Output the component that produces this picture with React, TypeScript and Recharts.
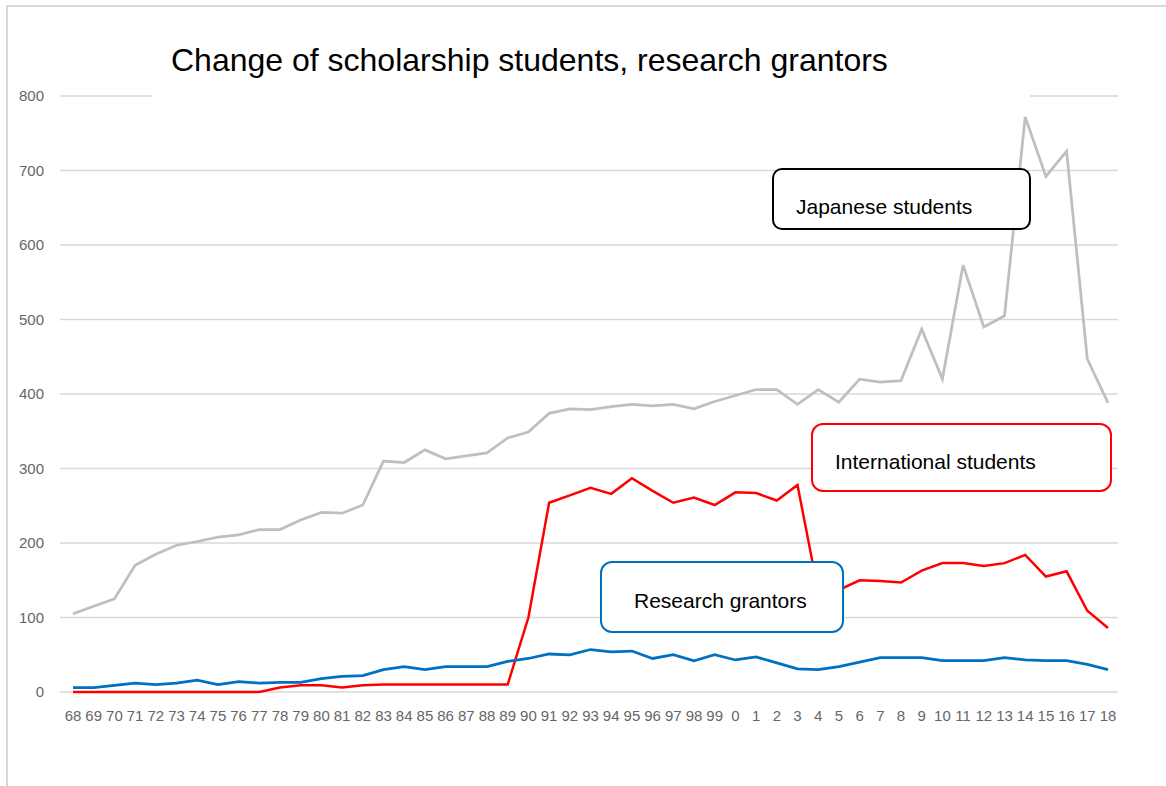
import React from 'react';
import { LineChart, Line, XAxis, YAxis, CartesianGrid } from 'recharts';

const years = [
  '68', '69', '70', '71', '72', '73', '74', '75', '76', '77', '78', '79', '80', '81', '82', '83', '84',
  '85', '86', '87', '88', '89', '90', '91', '92', '93', '94', '95', '96', '97', '98', '99', '0', '1',
  '2', '3', '4', '5', '6', '7', '8', '9', '10', '11', '12', '13', '14', '15', '16', '17', '18',
];

const japanese = [
  105, 115, 125, 170, 185, 197, 202, 208, 211, 218, 218, 231, 241, 240, 251, 310, 308,
  325, 313, 317, 321, 341, 349, 374, 380, 379, 383, 386, 384, 386, 380, 390, 398, 406,
  406, 386, 406, 389, 420, 416, 418, 487, 420, 573, 490, 505, 772, 692, 726, 447, 388,
];

const international = [
  0, 0, 0, 0, 0, 0, 0, 0, 0, 0, 6, 9, 9, 6, 9, 10, 10,
  10, 10, 10, 10, 10, 100, 254, 264, 274, 266, 287, 270, 254, 261, 251, 268, 267,
  257, 278, 135, 137, 150, 149, 147, 163, 173, 173, 169, 173, 184, 155, 162, 109, 86,
];

const grantors = [
  6, 6, 9, 12, 10, 12, 16, 10, 14, 12, 13, 13, 18, 21, 22, 30, 34,
  30, 34, 34, 34, 41, 45, 51, 50, 57, 54, 55, 45, 50, 42, 50, 43, 47,
  39, 31, 30, 34, 40, 46, 46, 46, 42, 42, 42, 46, 43, 42, 42, 37, 30,
];

const yTicks = [0, 100, 200, 300, 400, 500, 600, 700, 800];

const data = years.map((y, i) => ({
  year: y,
  japanese: japanese[i],
  international: international[i],
  grantors: grantors[i],
}));

const boxStyle = (color: string, radius: number): React.CSSProperties => ({
  position: 'absolute',
  background: '#fff',
  border: `2px solid ${color}`,
  borderRadius: radius,
  boxSizing: 'border-box',
  fontFamily: 'Liberation Sans, Arial, sans-serif',
  fontSize: 21,
  color: '#000',
});

export default function App() {
  return (
    <div style={{ position: 'absolute', left: 0, top: 0, width: 1166, height: 786, background: '#fff', overflow: 'hidden' }}>
      {/* frame */}
      <div style={{ position: 'absolute', left: 6, top: 5, width: 1200, height: 800, borderTop: '2px solid #d9d9d9', borderLeft: '2px solid #d9d9d9' }} />
      <LineChart
        width={1166}
        height={786}
        data={data}
        margin={{ top: 96, right: 48, left: 0, bottom: 64 }}
        style={{ position: 'absolute', left: 0, top: 0 }}
      >
        <CartesianGrid vertical={false} stroke="#d9d9d9" strokeWidth={1.5} />
        <XAxis
          dataKey="year"
          interval={0}
          axisLine={false}
          tickLine={false}
          tickSize={0}
          tickMargin={18}
          height={30}
          padding={{ left: 13, right: 10 }}
          tick={{ fill: '#666', fontSize: 15, fontFamily: 'Liberation Sans, Arial, sans-serif' }}
        />
        <YAxis
          domain={[0, 800]}
          ticks={yTicks}
          interval={0}
          axisLine={false}
          tickLine={false}
          tickSize={0}
          tickMargin={16}
          width={60}
          tick={{ fill: '#666', fontSize: 15, fontFamily: 'Liberation Sans, Arial, sans-serif' }}
        />
        <Line type="linear" dataKey="japanese" stroke="#bfbfbf" strokeWidth={2.75} dot={false} isAnimationActive={false} />
        <Line type="linear" dataKey="international" stroke="#ff0000" strokeWidth={2.5} dot={false} isAnimationActive={false} />
        <Line type="linear" dataKey="grantors" stroke="#0070c0" strokeWidth={2.75} dot={false} isAnimationActive={false} />
      </LineChart>

      {/* title, with a white backing that hides the top gridline behind it */}
      <div
        style={{
          position: 'absolute',
          left: 152,
          top: 40,
          width: 878,
          height: 60,
          background: '#fff',
          fontFamily: 'Liberation Sans, Arial, sans-serif',
          fontSize: 32,
          color: '#000',
          paddingLeft: 19,
          paddingTop: 2,
          boxSizing: 'border-box',
          whiteSpace: 'nowrap',
        }}
      >
        Change of scholarship students, research grantors
      </div>

      <div style={{ ...boxStyle('#000', 10), left: 772, top: 168, width: 259, height: 62, paddingLeft: 22, paddingTop: 25 }}>
        Japanese students
      </div>
      <div style={{ ...boxStyle('#ff0000', 12), left: 811, top: 423, width: 301, height: 69, paddingLeft: 22, paddingTop: 25 }}>
        International students
      </div>
      <div style={{ ...boxStyle('#0070c0', 12), left: 600, top: 561, width: 244, height: 72, paddingLeft: 32, paddingTop: 26 }}>
        Research grantors
      </div>
    </div>
  );
}
